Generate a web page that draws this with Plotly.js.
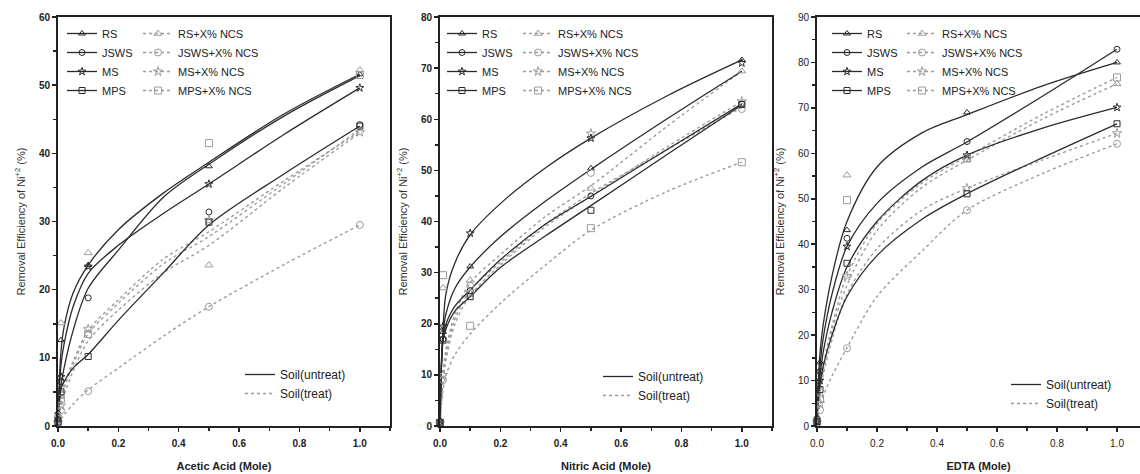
<!DOCTYPE html>
<html><head><meta charset="utf-8">
<script src="https://cdn.plot.ly/plotly-3.0.1.min.js"></script>
<style>html,body{margin:0;padding:0;background:#fff}#chart{width:1140px;height:474px}</style>
</head><body><div id="chart"></div>
<script>
// ---------- data ----------
const fitX = [0, 0.01, 0.02, 0.05, 0.1, 0.2, 0.35, 0.5, 0.75, 1.0];
const ptX  = [0, 0.01, 0.1, 0.5, 1.0];

const seriesNames  = ['RS', 'JSWS', 'MS', 'MPS'];
const treatedNames = ['RS+X% NCS', 'JSWS+X% NCS', 'MS+X% NCS', 'MPS+X% NCS'];
const soilLabels   = ['Soil(untreat)', 'Soil(treat)'];
const xTitles      = ['Acetic Acid (Mole)', 'Nitric Acid (Mole)', 'EDTA (Mole)'];
const yTitle       = 'Removal Efficiency of Ni<sup>+2</sup> (%)';
const yMax         = [60, 80, 90];

// Acetic acid – fitted curves
const acetic_RS_fit    = [1, 11, 14.5, 19.5, 23.6, 28.8, 34.2, 38.7, 45.8, 51.6];
const acetic_JSWS_fit  = [1, 6, 8.5, 14, 20.2, 25.8, 33.6, 38.4, 45.5, 51.4];
const acetic_MS_fit    = [1, 9, 12, 17.5, 22.4, 26.5, 31.2, 35.5, 42.8, 49.6];
const acetic_MPS_fit   = [1, 5.5, 6.5, 8.5, 10.5, 15.5, 22.5, 29.5, 37, 44];
const acetic_RSt_fit   = [0.5, 4.5, 6, 9.5, 14, 18.5, 24.5, 28.5, 36, 43.2];
const acetic_JSWSt_fit = [0.3, 1, 1.6, 3.2, 5.3, 8.5, 13.2, 17.5, 23.7, 29.5];
const acetic_MSt_fit   = [0.5, 3, 4.5, 8, 12.5, 17, 22.5, 26.5, 35, 43];
const acetic_MPSt_fit  = [0.5, 4, 5.5, 9, 13.5, 18, 23.8, 27.8, 35.6, 43.5];
// Acetic acid – measured points
const acetic_RS_pts    = [2, 12.6, 23.6, 38.1, 51.6];
const acetic_JSWS_pts  = [1, 6.5, 18.8, 31.4, 44.2];
const acetic_MS_pts    = [1, 7.2, 23.4, 35.5, 49.6];
const acetic_MPS_pts   = [0.6, 5, 10.2, 29.9, 44];
const acetic_RSt_pts   = [1.5, 15.1, 25.4, 23.6, 52.2];
const acetic_JSWSt_pts = [0.3, 2.3, 5.1, 17.5, 29.5];
const acetic_MSt_pts   = [0.5, 3, 14.2, 30.2, 43.1];
const acetic_MPSt_pts  = [1, 4, 13.5, 41.5, 51.5];

// Nitric acid – fitted curves
const nitric_RS_fit    = [1, 18, 22, 27, 31.1, 37, 44, 50.2, 60, 69.4];
const nitric_JSWS_fit  = [1, 17.5, 20, 23.5, 26.6, 32.5, 39.5, 44.9, 54, 63];
const nitric_MS_fit    = [1, 19, 26, 32, 37.4, 43.5, 50.5, 56.3, 64.5, 71.6];
const nitric_MPS_fit   = [1, 16.5, 19, 22.5, 25.3, 31, 37.2, 43.1, 53, 62.8];
const nitric_RSt_fit   = [1, 10, 15, 22, 28, 33.5, 41, 47, 58.5, 69.4];
const nitric_JSWSt_fit = [1, 9, 14, 21, 26.5, 32, 39.5, 45.5, 54, 62.3];
const nitric_MSt_fit   = [1, 8.5, 13, 20, 25.5, 31.5, 39, 45, 54.5, 63.5];
const nitric_MPSt_fit  = [0.5, 7, 10, 14, 18, 24, 31.5, 38.3, 45.8, 51.6];
// Nitric acid – measured points
const nitric_RS_pts    = [1.2, 18.4, 31.2, 50.4, 71.6];
const nitric_JSWS_pts  = [0.8, 17, 26.5, 45, 63];
const nitric_MS_pts    = [1, 19.5, 37.7, 56.3, 71];
const nitric_MPS_pts   = [0.6, 16.8, 25.3, 42.2, 62.9];
const nitric_RSt_pts   = [0.5, 27, 28.5, 46.5, 69.4];
const nitric_JSWSt_pts = [0.5, 9, 27.4, 49.5, 62];
const nitric_MSt_pts   = [0.5, 10, 26, 57.2, 63.5];
const nitric_MPSt_pts  = [0.5, 29.5, 19.6, 38.7, 51.6];

// EDTA – fitted curves
const edta_RS_fit    = [4, 16, 22, 33, 45, 57, 64.5, 68.5, 74.8, 80];
const edta_JSWS_fit  = [3, 13, 19, 29, 39.5, 49, 57, 62.5, 72.5, 82.9];
const edta_MS_fit    = [3, 11, 16, 25, 35, 45, 54, 59.6, 65.5, 70.1];
const edta_MPS_fit   = [2, 9, 13, 20, 28.5, 37.5, 45.5, 51.1, 59, 66.5];
const edta_RSt_fit   = [2, 8, 12, 21, 31, 43, 52.5, 58.5, 67.5, 75.3];
const edta_JSWSt_fit = [1, 4.5, 6.5, 11, 17.2, 28.5, 38.5, 47.5, 55.5, 62.1];
const edta_MSt_fit   = [1.5, 7, 11, 19, 29, 39, 47.5, 52.3, 58.5, 64.4];
const edta_MPSt_fit  = [2, 9, 13, 22, 33, 44.5, 53.5, 59.3, 68.5, 76.7];
// EDTA – measured points
const edta_RS_pts    = [2, 14, 43.1, 69, 80];
const edta_JSWS_pts  = [1.5, 12, 41.3, 62.6, 82.9];
const edta_MS_pts    = [1, 10, 39.5, 59.6, 70.1];
const edta_MPS_pts   = [1, 8, 35.8, 51.1, 66.5];
const edta_RSt_pts   = [1, 7, 55.2, 58.5, 75.3];
const edta_JSWSt_pts = [0.5, 3.5, 17.1, 47.5, 62.1];
const edta_MSt_pts   = [0.8, 5, 33, 52.3, 64.4];
const edta_MPSt_pts  = [1, 6, 49.7, 58.9, 76.7];

// ---------- assembly ----------
const panels = [
  {uFit:[acetic_RS_fit,acetic_JSWS_fit,acetic_MS_fit,acetic_MPS_fit],
   tFit:[acetic_RSt_fit,acetic_JSWSt_fit,acetic_MSt_fit,acetic_MPSt_fit],
   uPts:[acetic_RS_pts,acetic_JSWS_pts,acetic_MS_pts,acetic_MPS_pts],
   tPts:[acetic_RSt_pts,acetic_JSWSt_pts,acetic_MSt_pts,acetic_MPSt_pts]},
  {uFit:[nitric_RS_fit,nitric_JSWS_fit,nitric_MS_fit,nitric_MPS_fit],
   tFit:[nitric_RSt_fit,nitric_JSWSt_fit,nitric_MSt_fit,nitric_MPSt_fit],
   uPts:[nitric_RS_pts,nitric_JSWS_pts,nitric_MS_pts,nitric_MPS_pts],
   tPts:[nitric_RSt_pts,nitric_JSWSt_pts,nitric_MSt_pts,nitric_MPSt_pts]},
  {uFit:[edta_RS_fit,edta_JSWS_fit,edta_MS_fit,edta_MPS_fit],
   tFit:[edta_RSt_fit,edta_JSWSt_fit,edta_MSt_fit,edta_MPSt_fit],
   uPts:[edta_RS_pts,edta_JSWS_pts,edta_MS_pts,edta_MPS_pts],
   tPts:[edta_RSt_pts,edta_JSWSt_pts,edta_MSt_pts,edta_MPSt_pts]}
];

const W = 1140, H = 474;
const symbols = ['triangle-up-open', 'circle-open', 'star-open', 'square-open'];
const darkC = '#2b2b2b', grayC = '#9c9c9c';
const FONT = 'Arial, "Liberation Sans", Helvetica, sans-serif';

// pixel geometry of each panel
const geo = [
  {l: 58,  r: 390,  xr: [0, 1.1],  bold: true,  leg1: 62,  leg2: 138, legS: 240,  legSy: 360},
  {l: 440, r: 772,  xr: [0, 1.1],  bold: true,  leg1: 442, leg2: 518, legS: 598,  legSy: 362},
  {l: 817, r: 1140, xr: [0, (1140 - 817) / 300], bold: false, leg1: 827, leg2: 902, legS: 1006, legSy: 370}
];
const plotTop = 17, plotBot = 426;

const traces = [];
const layout = {
  width: W, height: H,
  margin: {l: 0, r: 0, t: 0, b: 0},
  paper_bgcolor: '#fff', plot_bgcolor: '#fff',
  hovermode: false,
  font: {family: FONT, color: '#222'}
};

panels.forEach((p, k) => {
  const s = k === 0 ? '' : String(k + 1);
  const xa = 'x' + s, ya = 'y' + s;
  const g = geo[k];
  const legIds = [3 * k + 1, 3 * k + 2, 3 * k + 3].map(n => n === 1 ? 'legend' : 'legend' + n);

  // fitted curves
  for (let i = 0; i < 4; i++) {
    traces.push({x: fitX, y: p.tFit[i], xaxis: xa, yaxis: ya, mode: 'lines', showlegend: false,
      line: {shape: 'spline', smoothing: 0.9, color: grayC, width: 1.4, dash: 'dot'}});
  }
  for (let i = 0; i < 4; i++) {
    traces.push({x: fitX, y: p.uFit[i], xaxis: xa, yaxis: ya, mode: 'lines', showlegend: false,
      line: {shape: 'spline', smoothing: 0.9, color: darkC, width: 1.3}});
  }
  // measured points
  for (let i = 0; i < 4; i++) {
    traces.push({x: ptX, y: p.tPts[i], xaxis: xa, yaxis: ya, mode: 'markers', showlegend: false, cliponaxis: false,
      marker: {symbol: symbols[i], size: 7, color: grayC, line: {width: 1, color: grayC}}});
    traces.push({x: ptX, y: p.uPts[i], xaxis: xa, yaxis: ya, mode: 'markers', showlegend: false, cliponaxis: false,
      marker: {symbol: symbols[i], size: 6, color: darkC, line: {width: 1, color: darkC}}});
  }
  // legend entries
  for (let i = 0; i < 4; i++) {
    traces.push({x: [null], y: [null], xaxis: xa, yaxis: ya, name: seriesNames[i], legend: legIds[0],
      mode: 'lines+markers', line: {color: darkC, width: 1.3},
      marker: {symbol: symbols[i], size: 6, color: darkC, line: {width: 1, color: darkC}}});
    traces.push({x: [null], y: [null], xaxis: xa, yaxis: ya, name: treatedNames[i], legend: legIds[1],
      mode: 'lines+markers', line: {color: grayC, width: 1.4, dash: 'dot'},
      marker: {symbol: symbols[i], size: 7, color: grayC, line: {width: 1, color: grayC}}});
  }
  traces.push({x: [null], y: [null], xaxis: xa, yaxis: ya, name: soilLabels[0], legend: legIds[2],
    mode: 'lines', line: {color: darkC, width: 1.3}});
  traces.push({x: [null], y: [null], xaxis: xa, yaxis: ya, name: soilLabels[1], legend: legIds[2],
    mode: 'lines', line: {color: grayC, width: 1.4, dash: 'dot'}});

  const tickFont = {family: FONT, size: 10, color: '#222', weight: g.bold ? 'bold' : 'normal'};
  const common = {
    showline: true, linewidth: 2, linecolor: '#222', showgrid: false, zeroline: false,
    ticks: 'outside', ticklen: 4, tickwidth: 1.5, tickcolor: '#222', tickfont: tickFont,
    automargin: false, fixedrange: true
  };
  layout['xaxis' + s] = Object.assign({}, common, {
    domain: [g.l / W, Math.min(1, g.r / W)], range: g.xr, anchor: ya,
    tick0: 0, dtick: 0.2, tickformat: '.1f', mirror: true, ticklabelstandoff: 3,
    minor: {dtick: 0.1, ticks: 'outside', ticklen: 3, tickwidth: 1.5, tickcolor: '#222'},
    title: {text: xTitles[k], font: {family: FONT, size: 11, weight: 'bold', color: '#222'}, standoff: 14}
  });
  layout['yaxis' + s] = Object.assign({}, common, {
    domain: [(H - plotBot) / H, (H - plotTop) / H], range: [0, yMax[k]], anchor: xa,
    tick0: 0, dtick: 10, mirror: k < 2,
    minor: {dtick: 5, ticks: 'outside', ticklen: 3, tickwidth: 1.5, tickcolor: '#222'},
    title: {text: yTitle, font: {family: FONT, size: 11, color: '#333'}, standoff: 11}
  });

  const legBase = {xanchor: 'left', yanchor: 'top', bgcolor: 'rgba(0,0,0,0)', borderwidth: 0,
    tracegroupgap: 0, itemwidth: 30, itemclick: false, itemdoubleclick: false,
    font: {family: FONT, size: 11, color: '#222'}};
  layout[legIds[0]] = Object.assign({}, legBase, {x: g.leg1 / W, y: 1 - 19 / H});
  layout[legIds[1]] = Object.assign({}, legBase, {x: g.leg2 / W, y: 1 - 19 / H});
  layout[legIds[2]] = Object.assign({}, legBase, {x: g.legS / W, y: 1 - g.legSy / H,
    font: {family: FONT, size: 12, color: '#222'}});
});

Plotly.newPlot('chart', traces, layout, {displayModeBar: false, staticPlot: true});
</script></body></html>
